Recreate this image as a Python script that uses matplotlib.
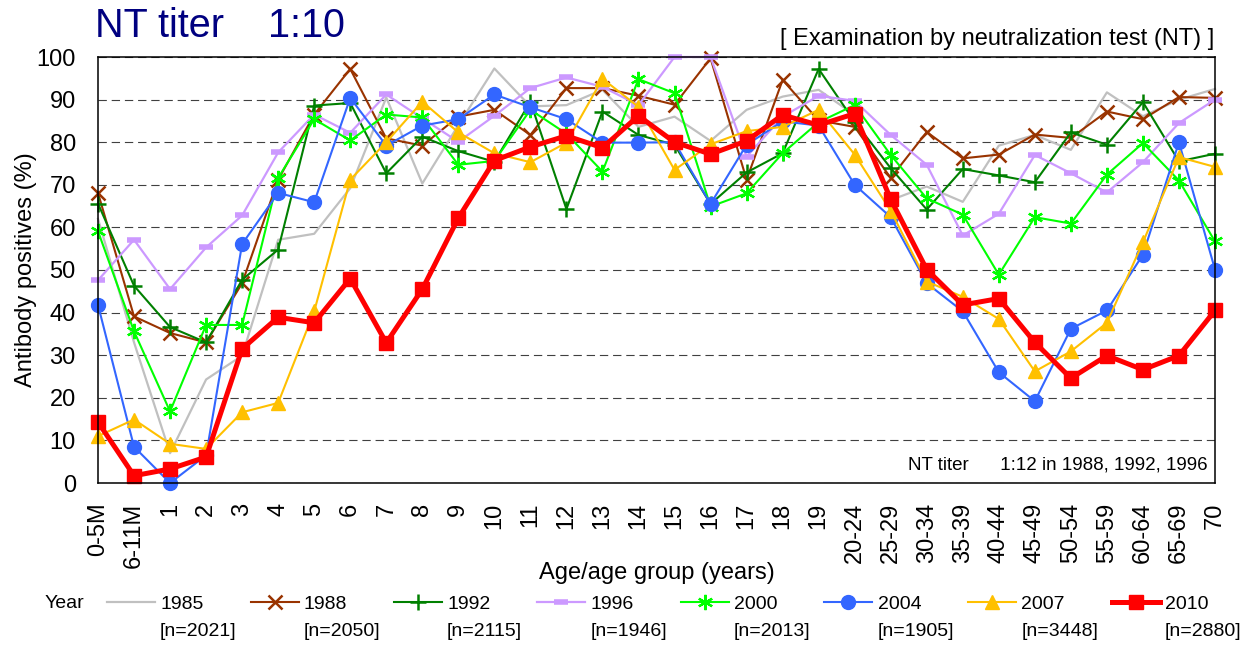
import numpy as np
import matplotlib
matplotlib.use('Agg')
import matplotlib.pyplot as plt

plt.rcParams['font.family'] = ['Liberation Sans', 'DejaVu Sans']
plt.rcParams['lines.scale_dashes'] = False

# Age groups on the x axis
age_groups = ['0-5M', '6-11M'] + [str(a) for a in range(1, 20)] + \
    ['20-24', '25-29', '30-34', '35-39', '40-44', '45-49', '50-54',
     '55-59', '60-64', '65-69', '70']

years = ['1985', '1988', '1992', '1996', '2000', '2004', '2007', '2010']
n_labels = ['[n=2021]', '[n=2050]', '[n=2115]', '[n=1946]',
            '[n=2013]', '[n=1905]', '[n=3448]', '[n=2880]']

# Antibody positives (%)
pos_1985 = [62, 33, 7, 24.3, 29.9, 57.1, 58.5, 69.2, 90.5, 70.3, 84, 97.3,
            88.4, 88.7, 92.3, 83.6, 86, 80.3, 87.6, 90.7, 92.3, 86.4,
            66.4, 69.6, 66.0, 79.2, 81.7, 78.2, 91.7, 86.1, 90.0, 92.5]
pos_1988 = [68.1, 39.1, 35.2, 33.0, 46.9, 71.2, 86.5, 97.2, 80.9, 79.2, 86, 87.6,
            81.7, 92.7, 92.7, 90.9, 88.8, 99.7, 71.2, 94.6, 85.1, 83.6,
            71.6, 82.4, 76.2, 77.1, 81.8, 81.0, 87.2, 85.4, 90.6, 90.4]
pos_1992 = [65.6, 46.3, 36.6, 33.0, 47.7, 54.8, 88.6, 89.2, 72.7, 81.3, 77.9, 75.4,
            89.5, 64.3, 87.2, 81.7, 79.4, 65.5, 72.9, 77.4, 97.2, 84.8,
            73.9, 64.2, 73.7, 72.2, 70.6, 82.3, 79.4, 89.4, 75.5, 77.3]
pos_1996 = [47.6, 57.1, 45.5, 55.3, 62.8, 77.6, 86.5, 82.2, 91.2, 85.6, 80.1, 86.2,
            92.7, 95.2, 93.0, 88.7, 100, 100, 76.6, 86, 90.9, 89.7,
            81.7, 74.7, 58.1, 63.2, 77.0, 72.7, 68.2, 75.3, 84.5, 90.0]
pos_2000 = [59.1, 35.6, 16.8, 37.1, 37.1, 71.6, 85.4, 80.4, 86.5, 85.8, 74.7, 75.6,
            87.6, 82, 73.1, 94.8, 91.5, 64.9, 68.0, 77.4, 84.7, 88.7,
            77.0, 66.8, 63.0, 48.9, 62.4, 60.9, 72.4, 79.8, 71.0, 56.7]
pos_2004 = [41.8, 8.5, 0, 6.5, 56.1, 68.1, 65.9, 90.4, 79.2, 83.9, 85.4, 91.2,
            88.2, 85.4, 79.9, 79.9, 80.0, 65.5, 79.4, 84.9, 83.9, 70.0,
            62.4, 46.9, 40.3, 26.0, 19.2, 36.2, 40.5, 53.6, 80.0, 50.1]
pos_2007 = [11.0, 14.9, 9.2, 8.0, 16.6, 18.8, 40.3, 71.2, 80.0, 89.5, 82.3, 77.4,
            75.3, 79.9, 94.9, 88.3, 73.5, 79.5, 82.6, 83.6, 87.6, 77.1,
            63.9, 47.3, 43.7, 38.5, 26.2, 30.9, 37.6, 56.5, 76.5, 74.2]
pos_2010 = [14.3, 1.7, 3.3, 6.1, 31.5, 38.9, 37.6, 48.0, 32.9, 45.5, 62.2, 75.7,
            78.9, 81.5, 78.7, 86.2, 80.0, 77.2, 80.3, 86.4, 84.0, 86.7,
            66.6, 50.1, 41.8, 43.3, 33.0, 24.6, 29.9, 26.6, 29.9, 40.5]

series = [pos_1985, pos_1988, pos_1992, pos_1996, pos_2000, pos_2004, pos_2007, pos_2010]

# Style per year: color, marker, markersize, marker edge width, line width
styles = [
    ('#C0C0C0', None, 0, 0, 1.6),
    ('#993300', 'x', 10, 1.8, 1.5),
    ('#008000', '+', 11, 1.8, 1.5),
    ('#CC99FF', '_', 10, 4.0, 1.6),
    ('#00FF00', (6, 2, 0), 11, 1.6, 1.5),
    ('#3366FF', 'o', 10, 1.0, 1.5),
    ('#FFC000', '^', 10.5, 1.0, 1.5),
    ('#FF0000', 's', 10.5, 1.0, 3.6),
]

W, H = 1249, 645
fig = plt.figure(figsize=(W / 100, H / 100), dpi=100)
ax = fig.add_axes([98 / W, 1 - 483 / H, (1215 - 98) / W, (483 - 57) / H])

x = np.arange(len(age_groups))
handles = []
for vals, year, (color, marker, ms, mew, lw) in zip(series, years, styles):
    line, = ax.plot(x, vals, color=color, marker=marker, markersize=ms,
                    markeredgewidth=mew, markeredgecolor=color, markerfacecolor=color,
                    linewidth=lw, clip_on=False, label=year)
    handles.append(line)

ax.set_xlim(0, len(age_groups) - 1)
ax.set_ylim(0, 100)
ax.set_yticks(range(0, 101, 10))
ax.set_xticks(x)
ax.set_xticklabels(age_groups, rotation=90)
ax.tick_params(length=0, labelsize=17)
ax.tick_params(axis='y', pad=16)
ax.tick_params(axis='x', pad=14)

ax.yaxis.grid(True, linestyle=(0, (6, 3.5)), color='#404040', linewidth=0.8)
ax.set_axisbelow(True)
for sp in ax.spines.values():
    sp.set_linewidth(1.1)

ax.set_ylabel('Antibody positives (%)', fontsize=17)
ax.yaxis.set_label_coords(-0.055, 0.5)
ax.set_xlabel('Age/age group (years)', fontsize=17)
ax.xaxis.set_label_coords(0.5, -0.185)

ax.text(0.993, 0.042, 'NT titer      1:12 in 1988, 1992, 1996', transform=ax.transAxes,
        ha='right', va='center', fontsize=13.5)

# Titles
fig.text(95 / W, 1 - 37 / H, 'NT titer    1:10', color='#000080', fontsize=28.5,
         va='baseline', ha='left')
fig.text(1214 / W, 1 - 45 / H, '[ Examination by neutralization test (NT) ]',
         fontsize=17, va='baseline', ha='right')

# Legend along the bottom
fig.text(45 / W, 1 - 604 / H, 'Year', fontsize=14, va='center', ha='left')
leg = fig.legend(handles, years, loc='center left', bbox_to_anchor=(107 / W, 1 - 604 / H),
                 ncol=8, frameon=False, fontsize=14, handlelength=2.47,
                 handletextpad=0.26, columnspacing=2.42, borderpad=0, borderaxespad=0)

fig.canvas.draw()
for t, n in zip(leg.get_texts(), n_labels):
    bb = t.get_window_extent()
    fig.text(bb.x0 / fig.bbox.width, 1 - 632 / H, n, fontsize=14, va='center', ha='left')

fig.savefig('out.png', dpi=100)
